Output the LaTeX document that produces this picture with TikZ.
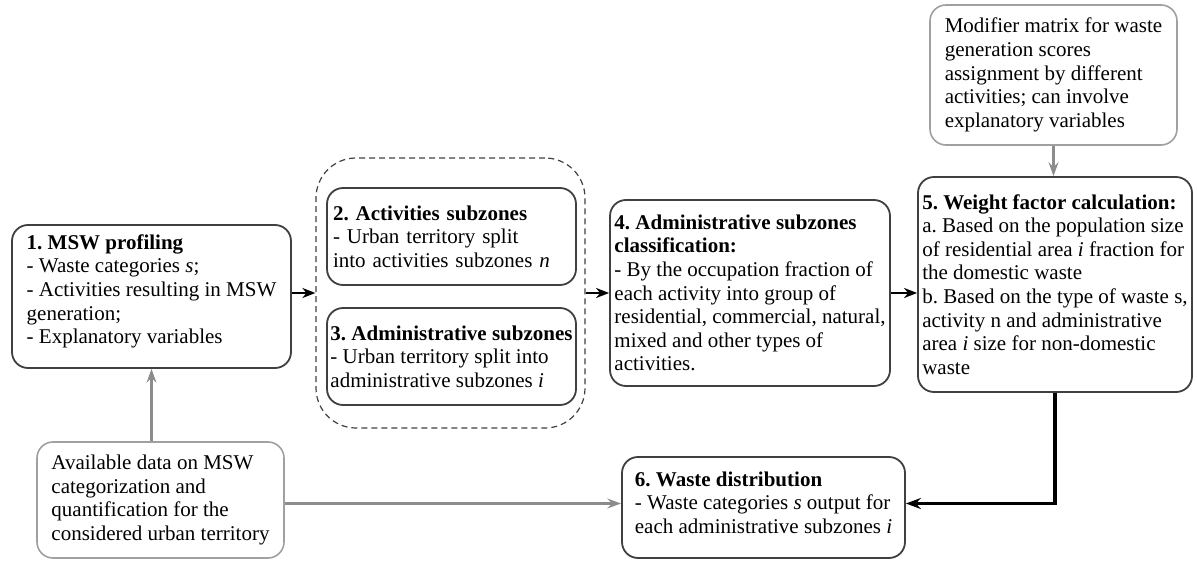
\documentclass[tikz,border=0pt]{standalone}
\usepackage{fontspec}
\setmainfont{Liberation Serif}
\usetikzlibrary{arrows.meta}
\frenchspacing
\definecolor{boxline}{HTML}{404040}
\definecolor{greyline}{HTML}{A0A0A0}
\definecolor{greyarrow}{HTML}{8C8C8C}
\tikzset{
  basebox/.style={rounded corners=16pt, align=left, inner sep=0pt, fill=white,
    font=\fontsize{21}{23.6}\selectfont},
  mainbox/.style={basebox, draw=boxline, line width=1.8pt},
  greybox/.style={basebox, draw=greyline, line width=1.6pt},
  grpbox/.style={draw=boxline, dashed, line width=1.2pt, rounded corners=40pt, dash pattern=on 6pt off 4pt},
  blackarrow/.style={-{Stealth[length=13pt,width=10pt,inset=4pt]}, line width=2.2pt, black},
  greyarr/.style={-{Stealth[length=14pt,width=10pt,inset=5pt]}, line width=3pt, greyarrow},
  thickline/.style={-{Stealth[length=15pt,width=11pt,inset=5pt]}, line width=3.5pt, black},
}
\begin{document}
\begin{tikzpicture}[x=1pt,y=-1pt]
\useasboundingbox (0,0) rectangle (1197,561);

\node[grpbox, minimum width=269pt, minimum height=270pt] (grp) at (450.5,293) {};

\node[mainbox, minimum width=279pt, minimum height=143pt] (b1) at (151.5,296.5)
 {\textbf{1. MSW profiling}\\- Waste categories \textit{s};\\- Activities resulting in MSW\\generation;\\- Explanatory variables\\[-9pt]\mbox{}};

\node[mainbox, minimum width=249pt, minimum height=97pt, text width=237pt] (b2) at (451.5,236.5)
 {\textbf{2. Activities subzones}\\- Urban territory split\\into activities subzones \textit{n}};

\node[mainbox, minimum width=249pt, minimum height=97pt] (b3) at (451.5,356.5)
 {\textbf{3. Administrative subzones}\\- Urban territory split into\\administrative subzones \textit{i}};

\node[mainbox, minimum width=280pt, minimum height=186pt] (b4) at (750,293)
 {\textbf{4. Administrative subzones}\\\textbf{classification:}\\- By the occupation fraction of\\each activity into group of\\residential, commercial, natural,\\mixed and other types of\\activities.};

\node[mainbox, minimum width=274pt, minimum height=215pt] (b5) at (1055,284.5)
 {\textbf{5. Weight factor calculation:}\\a. Based on the population size\\of residential area \textit{i} fraction for\\the domestic waste\\b. Based on the type of waste s,\\activity n and administrative\\area \textit{i} size for non-domestic\\waste};

\node[greybox, minimum width=247pt, minimum height=140pt] (mod) at (1053.5,75)
 {Modifier matrix for waste\\generation scores\\assignment by different\\activities; can involve\\explanatory variables};

\node[greybox, minimum width=247pt, minimum height=116pt] (avail) at (160.5,500)
 {Available data on MSW\\categorization and\\quantification for the\\considered urban territory};

\node[mainbox, minimum width=283pt, minimum height=101pt] (b6) at (763.5,507.5)
 {\textbf{6. Waste distribution}\\- Waste categories \textit{s} output for\\each administrative subzones \textit{i}\\[-14pt]\mbox{}};

\coordinate (b6in) at ([yshift=4pt]b6.west);
\coordinate (b6out) at ([yshift=4pt]b6.east);

\draw[blackarrow] (b1.east |- grp.west) -- (grp.west);
\draw[blackarrow] (grp.east) -- (grp.east -| b4.west);
\draw[blackarrow] (b4.east) -- (b4.east -| b5.west);
\draw[greyarr] (mod.south) -- (mod.south |- b5.north);
\draw[greyarr] (b1.south |- avail.north) -- (b1.south);
\draw[greyarr] (avail.east |- b6in) -- (b6in);
\draw[thickline] (b5.south) |- (b6out);
\end{tikzpicture}
\end{document}
